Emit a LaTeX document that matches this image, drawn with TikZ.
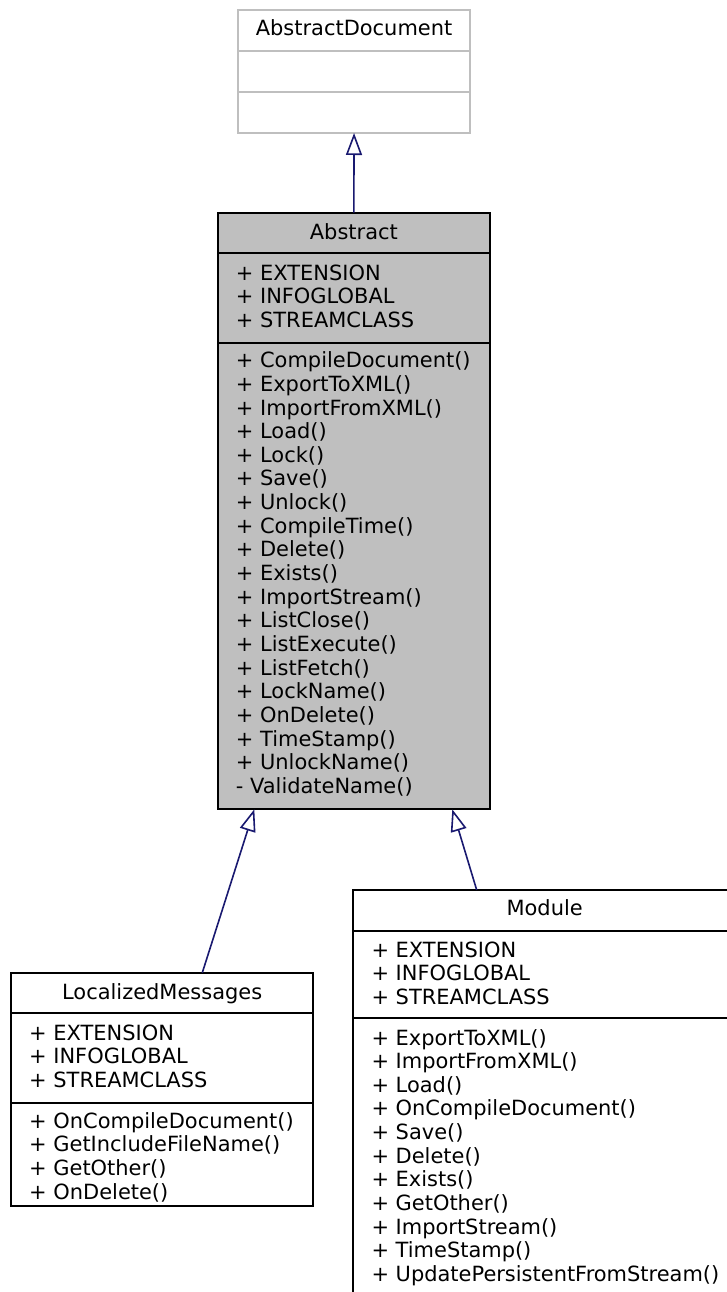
\documentclass[tikz,border=0pt]{standalone}
\usepackage{fontspec}
\setmainfont{DejaVu Sans}
\usetikzlibrary{arrows.meta,calc}
\definecolor{edgeblue}{HTML}{191970}
\definecolor{absgray}{HTML}{BFBFBF}
\newcommand\umlfont{\fontsize{20.95}{23.65}\selectfont}
\tikzset{
  box/.style={draw, line width=1.8pt, inner sep=0pt, outer sep=0pt, anchor=north west},
  graybox/.style={box, draw=absgray},
  grayfill/.style={box, fill=absgray},
  ttl/.style={anchor=base, inner sep=0pt, font=\umlfont},
  lst/.style={anchor=base west, inner sep=0pt, font=\umlfont},
  inh/.style={draw=edgeblue, line width=1.6pt, -{Triangle[open, length=22pt, width=16pt]}}
}
\begin{document}
\begin{tikzpicture}[x=1pt,y=-1pt]
\useasboundingbox (0,0) rectangle (727,1292);
\fill[white] (0,0) rectangle (727,1292);
\clip (0,0) rectangle (727,1292);
% AbstractDocument
\node[graybox, minimum width=231.5pt, minimum height=41pt] (adT) at (238.3,10) {};
\node[graybox, minimum width=231.5pt, minimum height=41pt] (adA) at (238.3,51) {};
\node[graybox, minimum width=231.5pt, minimum height=41pt] (adM) at (238.3,92) {};
\node[ttl] (adTt) at (354.05,35.7) {AbstractDocument};
% Abstract
\node[grayfill, minimum width=272.3pt, minimum height=40pt] (abT) at (217.7,212.7) {};
\node[grayfill, minimum width=272.3pt, minimum height=90pt] (abA) at (217.7,252.7) {};
\node[grayfill, minimum width=272.3pt, minimum height=466.6pt] (abM) at (217.7,342.7) {};
\node[ttl] (abTt) at (353.85,239.3) {Abstract};
\node[lst] (abAt) at (235.7,280) {\parbox[t]{250pt}{+ EXTENSION\\+ INFOGLOBAL\\+ STREAMCLASS}};
\node[lst] (abMt) at (235.7,367.7) {\parbox[t]{250pt}{+ CompileDocument()\\+ ExportToXML()\\+ ImportFromXML()\\+ Load()\\+ Lock()\\+ Save()\\+ Unlock()\\+ CompileTime()\\+ Delete()\\+ Exists()\\+ ImportStream()\\+ ListClose()\\+ ListExecute()\\+ ListFetch()\\+ LockName()\\+ OnDelete()\\+ TimeStamp()\\+ UnlockName()\\- ValidateName()}};
% LocalizedMessages
\node[box, minimum width=302.3pt, minimum height=40pt] (lmT) at (11,972.7) {};
\node[box, minimum width=302.3pt, minimum height=90pt] (lmA) at (11,1012.7) {};
\node[box, minimum width=302.3pt, minimum height=103.3pt] (lmM) at (11,1102.7) {};
\node[ttl] (lmTt) at (162.15,999) {LocalizedMessages};
\node[lst] (lmAt) at (29,1040) {\parbox[t]{280pt}{+ EXTENSION\\+ INFOGLOBAL\\+ STREAMCLASS}};
\node[lst] (lmMt) at (29,1128.3) {\parbox[t]{280pt}{+ OnCompileDocument()\\+ GetIncludeFileName()\\+ GetOther()\\+ OnDelete()}};
% Module
\node[box, minimum width=382.7pt, minimum height=41pt] (moT) at (353.3,890) {};
\node[box, minimum width=382.7pt, minimum height=87.3pt] (moA) at (353.3,931) {};
\node[box, minimum width=382.7pt, minimum height=282pt] (moM) at (353.3,1018.3) {};
\node[ttl] (moTt) at (544.65,915.7) {Module};
\node[lst] (moAt) at (371.3,957.3) {\parbox[t]{360pt}{+ EXTENSION\\+ INFOGLOBAL\\+ STREAMCLASS}};
\node[lst] (moMt) at (371.3,1045) {\parbox[t]{360pt}{+ ExportToXML()\\+ ImportFromXML()\\+ Load()\\+ OnCompileDocument()\\+ Save()\\+ Delete()\\+ Exists()\\+ GetOther()\\+ ImportStream()\\+ TimeStamp()\\+ UpdatePersistentFromStream()}};
% inheritance
\draw[inh] (abT.north) -- (adM.south);
\draw[inh] ([xshift=40.15pt]lmT.north) -- ([xshift=-99.55pt]abM.south);
\draw[inh] ([xshift=-67.95pt]moT.north) -- ([xshift=98.45pt]abM.south);
\end{tikzpicture}
\end{document}
